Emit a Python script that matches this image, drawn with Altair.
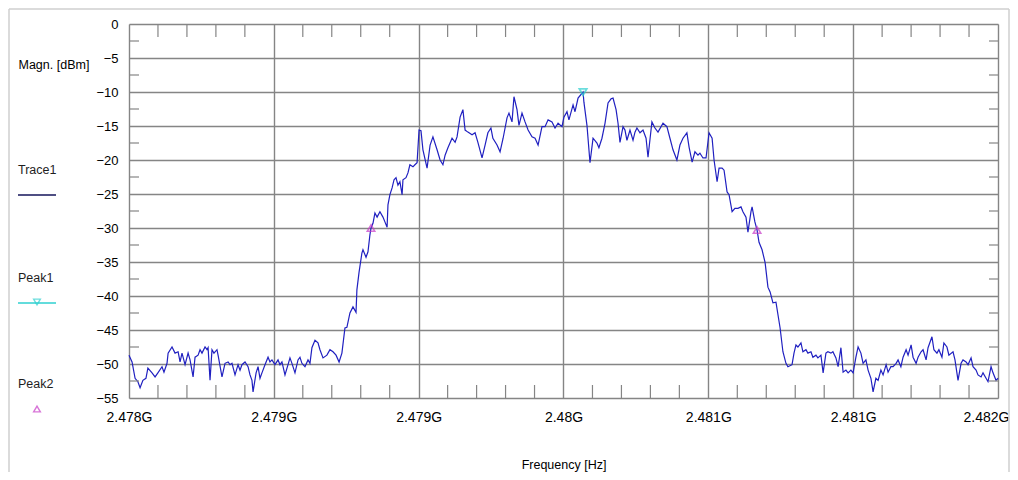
import altair as alt
import pandas as pd

# ---- data ----
F0_GHZ = 2.478          # sweep start
SPAN_GHZ = 0.004        # sweep span

# trace frequency offset from sweep start (kHz) and level (dBm)
offset_khz = [
    0, 14, 28, 41, 51, 64, 78, 87, 106, 120, 133, 152, 161, 175, 180, 198, 212, 226, 235, 244,
    258, 272, 281, 295, 304, 318, 327, 336, 350, 359, 364, 373, 382, 391, 405, 410, 428, 442, 456, 465,
    474, 488, 502, 511, 520, 534, 548, 557, 566, 571, 585, 594, 603, 612, 626, 640, 649, 658, 672, 686,
    695, 704, 718, 732, 741, 750, 764, 778, 787, 796, 810, 824, 833, 842, 856, 870, 879, 893, 911, 925,
    939, 953, 967,
    980, 994, 1003, 1017, 1031, 1045, 1049, 1059, 1072, 1077, 1091, 1100, 1109, 1114, 1123, 1132, 1142,
    1155, 1169, 1178, 1188, 1192, 1201, 1211, 1220, 1229, 1238, 1247, 1257, 1261, 1275, 1284, 1293, 1307,
    1316, 1326,
    1335, 1344, 1353, 1372, 1386, 1399, 1418, 1432, 1445, 1455, 1468, 1487, 1501, 1510, 1524, 1537, 1547,
    1560, 1579, 1593, 1606, 1625, 1639, 1652, 1666, 1675, 1694, 1708, 1722, 1740, 1749, 1763, 1772, 1786,
    1795, 1809, 1823, 1837, 1855, 1869, 1883, 1901, 1915, 1929, 1947, 1961, 1975, 1993, 2002, 2016, 2025,
    2044, 2053, 2067, 2090, 2094, 2108, 2122, 2136, 2154, 2163, 2177, 2191, 2205, 2219, 2228, 2242, 2251,
    2260, 2274, 2283, 2292, 2306, 2320, 2329, 2338, 2352, 2366, 2380, 2389, 2407, 2421, 2435, 2458, 2476,
    2490, 2504, 2522, 2536, 2550, 2568, 2578, 2592, 2605, 2619,
    2628, 2642, 2656, 2670, 2684, 2693, 2707, 2716, 2730, 2739, 2753, 2762, 2776, 2789, 2803, 2817, 2826,
    2840, 2849, 2863, 2868, 2881, 2891, 2900, 2914, 2928, 2941, 2951, 2964, 2978, 2997,
    3010, 3024, 3033, 3052, 3061, 3070, 3079, 3093, 3102, 3116, 3125, 3139, 3148, 3162, 3171, 3185, 3195,
    3208, 3217, 3231, 3240, 3254, 3264, 3277, 3287, 3300, 3310, 3323, 3333, 3346, 3356, 3369, 3379, 3392,
    3402, 3415, 3425, 3438, 3448, 3461, 3471, 3485, 3494, 3507, 3517, 3531, 3540, 3553, 3563, 3577, 3586,
    3600, 3609, 3623, 3632, 3646, 3655, 3669, 3678, 3696, 3705, 3719, 3728, 3742, 3751, 3765, 3774, 3793,
    3802, 3816, 3830, 3839, 3853, 3862, 3876, 3885, 3899, 3908, 3922, 3931, 3945, 3954, 3968, 3977, 3991,
    4000,
]
level_dbm = [
    -48.7, -49.7, -52.1, -52.6, -53.5, -52.4, -52.1, -50.6, -51.3, -51.9, -51.3, -50.4, -51.2, -49.9, -48.4,
    -47.5, -48.4, -48.2, -49.7, -48.4, -50.1, -48.4, -49.4, -51.9, -49.0, -48.7, -47.9, -48.4, -47.5, -47.9,
    -47.6, -52.4, -47.9, -48.4, -47.9, -48.7, -51.9, -49.9, -49.7, -50.1, -49.9, -51.6, -50.1, -50.9, -50.1,
    -49.7, -50.4, -51.6, -52.4, -54.1, -51.3, -50.4, -52.1, -51.3, -50.1, -49.0, -49.7, -49.4, -50.1, -49.4,
    -50.1, -49.7, -51.6, -50.1, -49.1, -49.9, -51.3, -49.4, -49.0, -49.9, -50.4, -49.4, -49.9, -47.6, -46.5,
    -46.9, -47.9, -49.1, -48.7, -47.9, -48.2, -48.7, -49.7,
    -48.4, -44.7, -44.6, -42.5, -41.6, -42.4, -39.1, -36.5, -33.7, -33.2, -34.3, -33.5, -31.0, -30.0, -29.3,
    -27.8, -28.4, -27.6, -28.4, -29.1, -29.9, -26.6, -25.1, -24.1, -22.9, -22.6, -23.7, -23.2, -25.1, -22.9,
    -22.6, -21.9, -20.7, -21.0, -20.7, -20.4,
    -15.6, -15.7, -18.5, -21.2, -17.8, -16.6, -18.5, -20.0, -20.7, -19.3, -18.2, -16.8, -17.4, -16.6, -13.7,
    -12.6, -15.6, -15.9, -16.3, -16.0, -17.4, -19.7, -17.8, -16.0, -15.3, -16.8, -17.8, -18.8, -16.8, -13.8,
    -13.1, -14.4, -10.7, -12.6, -14.9, -13.1, -14.4, -15.6, -16.6, -16.8, -17.8, -15.1, -15.1, -14.1, -14.4,
    -15.3, -14.6, -15.1, -13.7, -12.9, -14.1, -11.9, -12.9, -10.9, -10.0, -11.5, -14.9, -20.4, -16.8, -17.5,
    -18.2, -16.8, -14.6, -11.6, -11.0, -10.9, -12.6, -14.6, -17.4, -15.1, -15.6, -17.1, -15.6, -17.1, -15.9,
    -15.3, -16.0, -15.6, -16.8, -19.6, -14.4, -15.3, -15.9, -14.6, -15.1, -16.8, -18.5, -20.0, -17.8, -16.8,
    -16.0, -18.1, -20.3, -18.8, -19.3,
    -19.0, -19.7, -19.7, -16.0, -16.8, -20.0, -23.2, -21.2, -21.2, -21.5, -24.7, -25.1, -27.6, -27.1, -27.1,
    -26.9, -27.6, -28.4, -30.6, -27.6, -26.9, -29.1, -30.3, -32.1, -33.2, -35.1, -38.7, -39.4, -41.0, -40.9,
    -44.7,
    -48.2, -49.9, -50.4, -50.1, -48.4, -47.2, -47.5, -46.9, -48.2, -47.9, -48.4, -48.2, -49.0, -48.7, -49.1,
    -48.7, -51.3, -48.4, -48.2, -48.4, -48.2, -49.1, -50.4, -47.6, -51.2, -50.9, -51.3, -50.9, -51.3, -49.0,
    -47.5, -48.4, -49.9, -49.4, -50.9, -52.1, -54.1, -52.1, -52.4, -50.9, -51.6, -50.1, -51.2, -50.4, -50.4,
    -49.9, -49.4, -50.4, -49.0, -47.9, -48.7, -47.2, -49.0, -49.9, -49.0, -48.2, -47.9, -49.4, -47.6, -46.0,
    -47.9, -48.4, -47.9, -49.0, -46.9, -47.5, -48.7, -48.2, -49.4, -52.4, -49.9, -49.4, -49.7, -50.1, -49.1,
    -50.4, -50.9, -51.6, -51.9, -51.3, -52.1, -52.6, -50.4, -51.3, -52.4, -52.1,
]

peak1_khz = [2090]
peak1_dbm = [-10.0]
peak2_khz = [1114, 2891]
peak2_dbm = [-30.0, -30.3]

legend_names = ["Trace1", "Peak1", "Peak2"]
x_title = "Frequency [Hz]"
y_title = "Magn. [dBm]"

# ---- tables ----
def to_ghz(k):
    return F0_GHZ + k * 1e-6

trace = pd.DataFrame({"f": [to_ghz(k) for k in offset_khz], "dbm": level_dbm})
p1 = pd.DataFrame({"f": [to_ghz(k) for k in peak1_khz], "dbm": peak1_dbm})
p2 = pd.DataFrame({"f": [to_ghz(k) for k in peak2_khz], "dbm": peak2_dbm})

x_major = [F0_GHZ + i * SPAN_GHZ / 6 for i in range(7)]
x_minor = [F0_GHZ + i * SPAN_GHZ / 30 for i in range(31) if i % 5]
y_major = [float(v) for v in range(-55, 1, 5)]
y_minor = [-2.5 - 5 * i for i in range(11)]

W, H = 869, 374
FONT = "Liberation Sans, Arial, sans-serif"
GRID = "#858585"
TRACE_C = "#2020c0"
CYAN = "#2fd0d0"
MAGENTA = "#c83cc8"
TXT = "#1e1e1e"

xs = alt.Scale(domain=[F0_GHZ, F0_GHZ + SPAN_GHZ], nice=False, zero=False)
ys = alt.Scale(domain=[-55, 0], nice=False, zero=False)

last_label_shift = {"condition": {"test": "datum.value > 2.4819", "value": -12}, "value": 0}

X_AXIS = alt.Axis(
    values=x_major, labelExpr="format(datum.value, '.4~r') + 'G'", grid=True,
    gridColor=GRID, gridWidth=1.4, ticks=False, domain=False, labelFlush=False,
    labelOverlap=False, labelPadding=12, labelFontSize=14, labelOffset=last_label_shift,
    title=x_title, titleFontSize=12.5, titleFontWeight="normal", titleY=66,
    titleBaseline="middle")
Y_AXIS = alt.Axis(
    values=y_major, labelExpr="format(datum.value, 'd')", grid=True, gridColor=GRID,
    gridWidth=1.4, ticks=False, domain=False, labelOverlap=False, labelPadding=11,
    labelFontSize=13, title=y_title, titleAngle=0, titleAlign="left", titleX=-111,
    titleY=40, titleBaseline="middle", titleFontSize=12.5, titleFontWeight="normal")

XE = alt.X("f:Q", scale=xs, axis=X_AXIS)
YE = alt.Y("dbm:Q", scale=ys, axis=Y_AXIS)

line = alt.Chart(trace).mark_line(color=TRACE_C, strokeWidth=1.2, interpolate="linear").encode(
    x=XE, y=YE)

xt = pd.DataFrame({"f": x_minor})
yt = pd.DataFrame({"dbm": y_minor})
tick_b = alt.Chart(xt).mark_rule(color=GRID, strokeWidth=1.2).encode(
    x=XE, y=alt.value(H - 13), y2=alt.value(H))
tick_t = alt.Chart(xt).mark_rule(color=GRID, strokeWidth=1.2).encode(
    x=XE, y=alt.value(0), y2=alt.value(13))
tick_l = alt.Chart(yt).mark_rule(color=GRID, strokeWidth=1.2).encode(
    y=YE, x=alt.value(0), x2=alt.value(10))
tick_r = alt.Chart(yt).mark_rule(color=GRID, strokeWidth=1.2).encode(
    y=YE, x=alt.value(W - 9), x2=alt.value(W))

mk1 = alt.Chart(p1).mark_point(shape="triangle-down", filled=False, color=CYAN,
                               size=55, strokeWidth=1.8).encode(x=XE, y=YE)
mk2 = alt.Chart(p2).mark_point(shape="triangle-up", filled=False, color=MAGENTA,
                               size=55, strokeWidth=1.6).encode(x=XE, y=YE)

one = pd.DataFrame({"k": [0]})

def label(txt, x, y):
    return alt.Chart(one).mark_text(text=txt, align="left", baseline="middle", fontSize=12.5,
                                    font=FONT, color=TXT).encode(x=alt.value(x), y=alt.value(y))

leg = [
    label(legend_names[0], -111, 146),
    alt.Chart(one).mark_rule(color="#14145a", strokeWidth=1.6).encode(
        x=alt.value(-111), x2=alt.value(-73), y=alt.value(171)),
    label(legend_names[1], -111, 254),
    alt.Chart(one).mark_rule(color=CYAN, strokeWidth=1.6).encode(
        x=alt.value(-111), x2=alt.value(-73), y=alt.value(279)),
    alt.Chart(one).mark_point(shape="triangle-down", filled=False, color=CYAN, size=45,
                              strokeWidth=1.4).encode(x=alt.value(-92), y=alt.value(278)),
    label(legend_names[2], -111, 360),
    alt.Chart(one).mark_point(shape="triangle-up", filled=False, color=MAGENTA, size=45,
                              strokeWidth=1.4).encode(x=alt.value(-92), y=alt.value(385)),
]

# outer light frame of the picture
frame = [
    alt.Chart(one).mark_rule(color="#cfcfcf", strokeWidth=1.5).encode(
        x=alt.value(-120), y=alt.value(-15), y2=alt.value(H + 74)),
    alt.Chart(one).mark_rule(color="#cfcfcf", strokeWidth=1.5).encode(
        x=alt.value(-120), x2=alt.value(W + 11), y=alt.value(-15)),
    alt.Chart(one).mark_rule(color="#cfcfcf", strokeWidth=1.5).encode(
        x=alt.value(W + 11), y=alt.value(-15), y2=alt.value(H + 74)),
]

chart = alt.layer(line, tick_b, tick_t, tick_l, tick_r, mk1, mk2, *leg, *frame).properties(
    width=W, height=H,
    autosize=alt.AutoSizeParams(type="none"),
    padding={"left": 121, "top": 16, "right": 12, "bottom": 74},
).configure_view(stroke="#6a6a6a", strokeWidth=1.5).configure_axis(
    labelFont=FONT, titleFont=FONT, labelColor=TXT, titleColor=TXT
).configure_axisY(labelOverlap=False).configure(background="white")

chart.save("out.html", embed_options={"renderer": "svg", "actions": False})
